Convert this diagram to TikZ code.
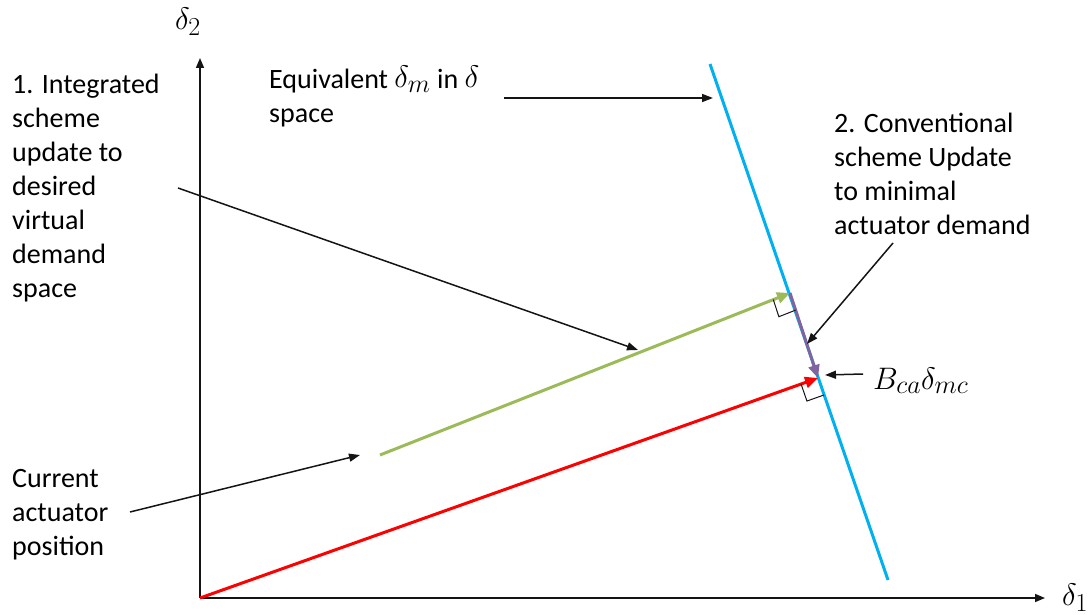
\documentclass[tikz,border=0pt]{standalone}
\usepackage{graphicx}
\usepackage{fontspec}
\setmainfont{Carlito}
\usetikzlibrary{arrows.meta,calc}
\definecolor{cgreen}{RGB}{155,187,89}
\definecolor{cred}{RGB}{255,0,0}
\definecolor{cpurple}{RGB}{128,100,162}
\definecolor{cblue}{RGB}{0,176,240}
\definecolor{cline}{RGB}{20,20,20}
\newcommand{\mymath}[1]{\scalebox{1.25}{$#1$}}
\begin{document}
\begin{tikzpicture}[x=1pt,y=-1pt,
  lbl/.style={font=\fontsize{28}{34}\selectfont, inner sep=0pt, align=left, anchor=base west},
  mlbl/.style={font=\fontsize{28}{34}\selectfont, inner sep=0pt},
  axis/.style={cline, line width=1.5pt, -{Triangle[length=10pt,width=8pt]}},
  note/.style={cline, line width=1.5pt, -{Triangle[length=11pt,width=8pt]}},
  vec/.style={line width=3pt, -{Triangle[length=13pt,width=11pt]}},
  rmark/.style={cline, line width=1pt}]
\useasboundingbox (0,0) rectangle (1091,615);

% key points
\coordinate (O) at (200,598);
\coordinate (Y) at (200,58);
\coordinate (X) at (1045,598);
\coordinate (bTop) at (710,64);
\coordinate (bBot) at (888,580);
\coordinate (gS) at (380,455);
\coordinate (gE) at (790,293);
\coordinate (pE) at (818,378);
\coordinate (rE) at (818,378);

% axes
\draw[axis] (O) -- (Y);
\draw[axis] (O) -- (X);
\node[mlbl] (d2) at (188,22) {\mymath{\delta_2}};
\node[mlbl] (d1) at (1075,598) {\mymath{\delta_1}};

% blue constraint line
\draw[cblue, line width=3pt] (bTop) -- (bBot);

% vectors
\draw[vec, cgreen] (gS) -- (gE);
\draw[vec, cred] (O) -- (rE);
\draw[vec, cpurple] (gE) -- (pE);

% right-angle marks
\coordinate (m1a) at ($(gE)!18pt!(gS)$);
\coordinate (m1b) at ($(gE)!18pt!(pE)$);
\coordinate (m1c) at ($(m1a)+(m1b)-(gE)$);
\draw[rmark] (m1a) -- (m1c) -- (m1b);
\coordinate (m2a) at ($(rE)!18pt!(O)$);
\coordinate (m2b) at ($(rE)!18pt!(bBot)$);
\coordinate (m2c) at ($(m2a)+(m2b)-(rE)$);
\draw[rmark] (m2a) -- (m2c) -- (m2b);

% labels (anchored at the baseline of the last line)
\node[lbl] (t1) at (12,297) {1. Integrated\\scheme\\update to\\desired\\virtual\\demand\\space};
\node[lbl] (t2) at (269,122) {Equivalent \mymath{\delta_m} in \mymath{\delta}\\space};
\node[lbl] (t3) at (834,234) {2. Conventional\\scheme Update\\to minimal\\actuator demand};
\node[lbl] (t4) at (12,555) {Current\\actuator\\position};
\node[lbl] (t5) at (873,389) {\mymath{B_{ca}\delta_{mc}}};

% annotation arrows
\coordinate (a1s) at (178,188);
\coordinate (a1e) at (638,350);
\coordinate (a2s) at (504,98);
\coordinate (a2e) at (713,98);
\coordinate (a3s) at (893,243);
\coordinate (a3e) at (807,344);
\coordinate (a4s) at (863,374);
\coordinate (a4e) at (825,375);
\coordinate (a5s) at (130,512);
\coordinate (a5e) at (360,455);
\draw[note] (a1s) -- (a1e);
\draw[note] (a2s) -- (a2e);
\draw[note] (a3s) -- (a3e);
\draw[note] (a4s) -- (a4e);
\draw[note] (a5s) -- (a5e);
\end{tikzpicture}
\end{document}
